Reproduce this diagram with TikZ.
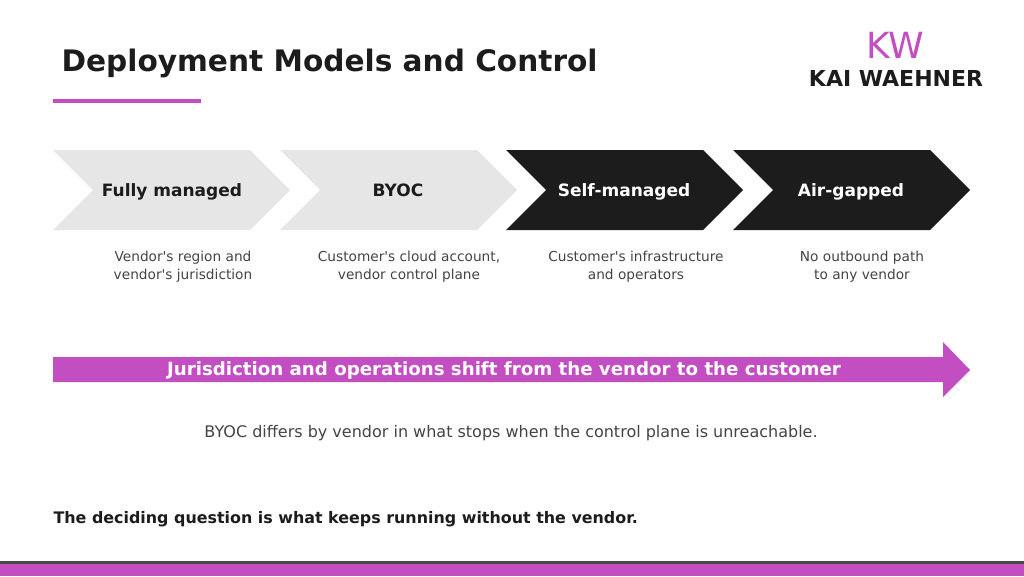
\documentclass[tikz,border=0pt]{standalone}
\usepackage{fontspec}
\setmainfont{DejaVu Sans}
\usetikzlibrary{positioning}
\definecolor{kwpurple}{HTML}{C24EC2}
\definecolor{chevgray}{HTML}{E6E6E6}
\definecolor{chevdark}{HTML}{1C1C1C}
\definecolor{txtgray}{HTML}{444444}
\tikzset{
  stage/.style={font=\fontsize{17}{20}\selectfont\bfseries, anchor=base},
  desc/.style={font=\fontsize{13.7}{18}\selectfont, text=txtgray, align=center}
}
\newcommand{\ap}{\XeTeXglyph\XeTeXglyphindex "quotesingle"\relax}
\newcommand{\chevron}[2]{%
  \fill[#2] (#1,150) -- (#1+197,150) -- (#1+237,190) -- (#1+197,230) -- (#1,230) -- (#1+40,190) -- cycle;}
\begin{document}
\begin{tikzpicture}[x=1pt,y=-1pt]
\useasboundingbox (0,0) rectangle (1024,576);

\node[anchor=west, font=\fontsize{29.6}{34}\selectfont\bfseries, text=chevdark] (title) at (58,63) {Deployment Models and Control};
\fill[kwpurple] (53,99) rectangle (201,103);

% logo
\node[font=\fontsize{36}{36}\selectfont, text=kwpurple] (kw) at (895,45) {KW};
\node[font=\fontsize{22}{24}\selectfont\bfseries, text=chevdark] (kai) at (896,78) {KAI WAEHNER};

\chevron{53}{chevgray}
\chevron{280}{chevgray}
\chevron{506}{chevdark}
\chevron{733}{chevdark}

\node[stage, text=chevdark] (full) at (172,196) {Fully managed};
\node[stage, text=chevdark] (byoc) at (398,196) {BYOC};
\node[stage, text=white] (self) at (624,196) {Self-managed};
\node[stage, text=white] (air)  at (851,196) {Air-gapped};

\node[desc] (d1) at (183,267) {Vendor\ap s region and\\vendor\ap s jurisdiction};
\node[desc] (d2) at (409,267) {Customer\ap s cloud account,\\vendor control plane};
\node[desc] (d3) at (636,267) {Customer\ap s infrastructure\\and operators};
\node[desc] (d4) at (862,267) {No outbound path\\to any vendor};

\fill[kwpurple] (53,357) -- (943,357) -- (943,342) -- (970,370) -- (943,397) -- (943,382) -- (53,382) -- cycle;
\node[font=\fontsize{18.2}{20}\selectfont\bfseries, text=white] (shift) at (504,370) {Jurisdiction and operations shift from the vendor to the customer};

\node[font=\fontsize{16}{18}\selectfont, text=txtgray] (note) at (511,433) {BYOC differs by vendor in what stops when the control plane is unreachable.};
\node[anchor=west, font=\fontsize{15.9}{18}\selectfont\bfseries, text=chevdark] (question) at (50,519) {The deciding question is what keeps running without the vendor.};

\fill[chevdark!80] (0,561) rectangle (1024,564);
\fill[kwpurple] (0,564) rectangle (1024,576);
\end{tikzpicture}
\end{document}
